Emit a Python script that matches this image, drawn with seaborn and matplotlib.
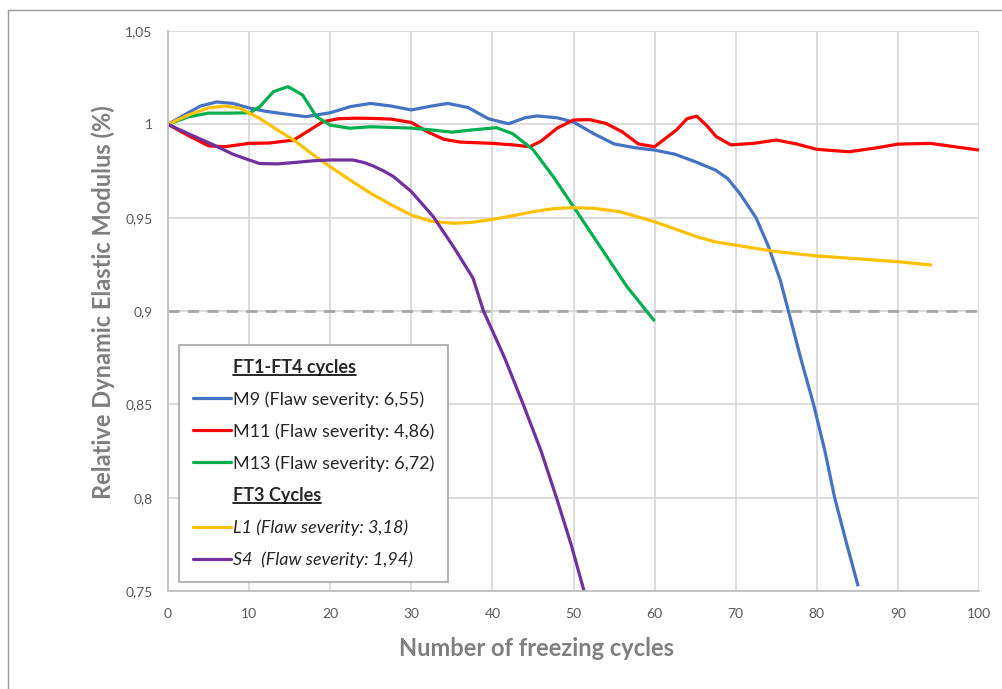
"""Relative dynamic elastic modulus vs. freezing cycles (Excel-style chart)."""

import matplotlib

matplotlib.use("Agg")
import matplotlib.pyplot as plt
from matplotlib.lines import Line2D
import seaborn as sns

sns.set_theme(style="white")
plt.rcParams["font.family"] = ["Lato", "DejaVu Sans"]

# --- datos ---
m9_x = [0, 2, 4, 6, 8, 10, 12, 14, 17, 20, 22.5, 25, 27.5, 30, 32.5, 34.5, 37, 39.5, 42, 44,
        45.5, 48, 50, 52.5, 55, 57.5, 60, 62.5, 65, 67.5, 69, 70.5, 72.5, 74, 75.5, 76.5, 78,
        79.6, 81, 82.2, 83.7, 85.1]
m9_y = [1.000, 1.005, 1.0098, 1.012, 1.0112, 1.0088, 1.007, 1.0058, 1.0041, 1.0062, 1.0095,
        1.0112, 1.0098, 1.0077, 1.0098, 1.0112, 1.009, 1.003, 1.0003, 1.0035, 1.0045, 1.0035,
        1.0012, 0.995, 0.9895, 0.9875, 0.9862, 0.984, 0.980, 0.9755, 0.971, 0.963, 0.950,
        0.935, 0.9165, 0.900, 0.875, 0.850, 0.825, 0.800, 0.775, 0.7525]

m11_x = [0, 2.5, 5, 7, 10, 12.5, 15.5, 17.5, 19.1, 21, 23, 25, 27.5, 30, 32, 34, 36, 40, 42.5,
         44.6, 46, 48, 50, 52, 54, 56, 58, 60, 62.7, 64, 65.2, 66.5, 67.6, 69.4, 72.2, 75,
         77.5, 80, 84, 87.5, 90, 94, 97, 100]
m11_y = [1.000, 0.994, 0.9885, 0.988, 0.9898, 0.990, 0.9916, 0.997, 1.0014, 1.003, 1.0033,
         1.0032, 1.0028, 1.001, 0.996, 0.992, 0.9905, 0.9898, 0.989, 0.988, 0.991, 0.998,
         1.0023, 1.0025, 1.0005, 0.996, 0.9895, 0.988, 0.997, 1.003, 1.0044, 0.999, 0.9934,
         0.989, 0.9898, 0.9916, 0.9895, 0.9866, 0.9853, 0.9875, 0.9894, 0.9898, 0.988, 0.9862]

m13_x = [0, 2.5, 5, 7.5, 10.1, 11.3, 13, 14.8, 16.6, 18.3, 20, 22.4, 25, 30, 32.5, 35, 37.5,
         40.5, 42.5, 45, 47.5, 50, 53.3, 56.6, 60]
m13_y = [1.000, 1.004, 1.006, 1.006, 1.0062, 1.0094, 1.0175, 1.0202, 1.0157, 1.0041, 0.9996,
         0.9979, 0.9987, 0.998, 0.997, 0.9958, 0.997, 0.9982, 0.995, 0.9865, 0.972, 0.9559,
         0.9344, 0.913, 0.8946]

l1_x = [0, 2.5, 5, 7, 8.9, 11.3, 13.5, 15.5, 17.5, 20, 22.5, 25, 27.5, 30, 32.5, 35.2, 37.5,
        40, 42.5, 45, 47.5, 50, 52.5, 55.7, 60, 62.5, 65.2, 67.5, 70, 72.5, 75, 80, 85, 90,
        94.2]
l1_y = [1.000, 1.005, 1.0088, 1.0098, 1.0086, 1.0032, 0.997, 0.9916, 0.985, 0.9773, 0.970,
        0.963, 0.957, 0.9514, 0.948, 0.947, 0.9475, 0.9491, 0.951, 0.9532, 0.9548, 0.9554,
        0.955, 0.9532, 0.9478, 0.944, 0.9398, 0.937, 0.9353, 0.9335, 0.9318, 0.9295, 0.928,
        0.9264, 0.9246]

s4_x = [0, 2.5, 5.6, 8, 10, 11.3, 13.5, 15.5, 18, 20, 22.8, 24.2, 25.3, 26.6, 27.8, 30, 32.7,
        35.2, 37.6, 38.9, 41.5, 43.8, 46, 47.9, 49.7, 51.3]
s4_y = [1.000, 0.995, 0.989, 0.984, 0.9809, 0.979, 0.9788, 0.9795, 0.9805, 0.9809, 0.9809,
        0.9795, 0.9777, 0.975, 0.972, 0.964, 0.9506, 0.9344, 0.9177, 0.900, 0.875, 0.850,
        0.825, 0.800, 0.775, 0.750]

x_ticks = [0, 10, 20, 30, 40, 50, 60, 70, 80, 90, 100]
y_ticks = [0.75, 0.80, 0.85, 0.90, 0.95, 1.00, 1.05]
y_tick_labels = ["0,75", "0,8", "0,85", "0,9", "0,95", "1", "1,05"]
threshold = 0.9

series = [
    ("M9 (Flaw severity: 6,55)", m9_x, m9_y, "#4472C4"),
    ("M11 (Flaw severity: 4,86)", m11_x, m11_y, "#FF0000"),
    ("M13 (Flaw severity: 6,72)", m13_x, m13_y, "#00B050"),
    ("L1 (Flaw severity: 3,18)", l1_x, l1_y, "#FFC000"),
    ("S4  (Flaw severity: 1,94)", s4_x, s4_y, "#7030A0"),
]

fig = plt.figure(figsize=(10.03, 6.89), dpi=100)
ax = fig.add_axes([168 / 1003, 1 - 591 / 689, (979 - 168) / 1003, (591 - 31) / 689])

# borde del area del grafico (solo arriba e izquierda, como en el original)
fig.add_artist(Line2D([8 / 1003, 1], [1 - 10 / 689, 1 - 10 / 689], transform=fig.transFigure,
                      color="#999999", lw=1))
fig.add_artist(Line2D([8 / 1003, 8 / 1003], [0, 1 - 10 / 689], transform=fig.transFigure,
                      color="#999999", lw=1))

ax.grid(True, color="#d9d9d9", lw=1.3)
ax.set_axisbelow(True)
ax.axhline(threshold, color="#a6a6a6", lw=2, ls=(0, (4, 3)), zorder=1.5)

handles = {}
for label, xs, ys, color in series:
    sns.lineplot(x=xs, y=ys, ax=ax, color=color, lw=2.3, solid_joinstyle="round",
                 solid_capstyle="butt", estimator=None)
    handles[label] = Line2D([], [], color=color, lw=2.3)

ax.set_xlim(0, 100)
ax.set_ylim(0.75, 1.05)
ax.set_xticks(x_ticks)
ax.set_yticks(y_ticks)
ax.set_yticklabels(y_tick_labels)
ax.tick_params(axis="both", length=0, labelsize=10, labelcolor="#595959")
ax.tick_params(axis="y", pad=11)
ax.tick_params(axis="x", pad=12)
for side in ["top", "right"]:
    ax.spines[side].set_visible(False)
for side in ["left", "bottom"]:
    ax.spines[side].set_color("#bfbfbf")
    ax.spines[side].set_linewidth(1.3)

ax.set_xlabel("Number of freezing cycles", fontsize=17, fontweight="bold", color="#7f7f7f",
              va="center")
ax.xaxis.set_label_coords(0.454, -0.102)
ax.set_ylabel("Relative Dynamic Elastic Modulus (%)", fontsize=17, fontweight="bold",
              color="#7f7f7f", va="center")
ax.yaxis.set_label_coords(-0.080, 0.516)

blank = Line2D([], [], color="none")
leg_handles = [blank] + [handles[s[0]] for s in series[:3]] + [blank] + \
              [handles[s[0]] for s in series[3:]]
leg_labels = ["FT1-FT4 cycles"] + [s[0] for s in series[:3]] + ["FT3 Cycles"] + \
             [s[0] for s in series[3:]]
leg = ax.legend(leg_handles, leg_labels, loc="lower left", bbox_to_anchor=(0.0136, 0.016),
                fontsize=13, frameon=True, fancybox=False, edgecolor="#a6a6a6",
                framealpha=1, handlelength=2.15, handletextpad=0.1, labelspacing=0.86,
                borderpad=0.75, borderaxespad=0)
leg.get_frame().set_linewidth(1.2)
texts = leg.get_texts()
for i in (0, 4):
    texts[i].set_fontweight("bold")
for i in (5, 6):
    texts[i].set_fontstyle("italic")

# subrayado de los encabezados
fig.canvas.draw()
renderer = fig.canvas.get_renderer()
inv = fig.transFigure.inverted()
for i in (0, 4):
    bb = texts[i].get_window_extent(renderer)
    (x0, y0), (x1, _) = inv.transform([(bb.x0, bb.y0 + 1), (bb.x1, bb.y0)])
    fig.add_artist(Line2D([x0, x1], [y0, y0], transform=fig.transFigure, color="black",
                          lw=1.2))

fig.savefig("out.png", dpi=100)
plt.close(fig)
